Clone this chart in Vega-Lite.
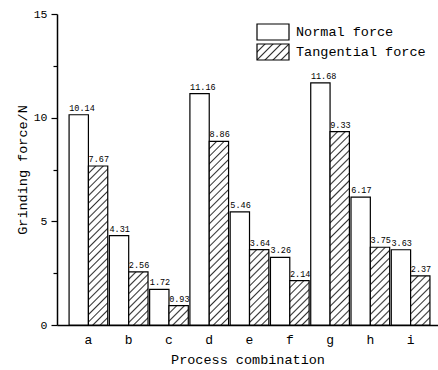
{
  "$schema": "https://vega.github.io/schema/vega-lite/v6.json",
  "width": 381,
  "height": 311,
  "autosize": {"type": "none"},
  "padding": {"left": 57, "top": 14, "right": 0, "bottom": 45},
  "background": "white",
  "config": {
    "font": "Liberation Mono",
    "view": {"stroke": null},
    "axis": {"labelColor": "black", "titleColor": "black", "domainColor": "black", "tickColor": "black", "titleFontWeight": "normal", "grid": false}
  },
  "data": {
    "values": [
      {"cat": "a", "series": "Normal force", "value": 10.14},
      {"cat": "a", "series": "Tangential force", "value": 7.67},
      {"cat": "b", "series": "Normal force", "value": 4.31},
      {"cat": "b", "series": "Tangential force", "value": 2.56},
      {"cat": "c", "series": "Normal force", "value": 1.72},
      {"cat": "c", "series": "Tangential force", "value": 0.93},
      {"cat": "d", "series": "Normal force", "value": 11.16},
      {"cat": "d", "series": "Tangential force", "value": 8.86},
      {"cat": "e", "series": "Normal force", "value": 5.46},
      {"cat": "e", "series": "Tangential force", "value": 3.64},
      {"cat": "f", "series": "Normal force", "value": 3.26},
      {"cat": "f", "series": "Tangential force", "value": 2.14},
      {"cat": "g", "series": "Normal force", "value": 11.68},
      {"cat": "g", "series": "Tangential force", "value": 9.33},
      {"cat": "h", "series": "Normal force", "value": 6.17},
      {"cat": "h", "series": "Tangential force", "value": 3.75},
      {"cat": "i", "series": "Normal force", "value": 3.63},
      {"cat": "i", "series": "Tangential force", "value": 2.37}
    ]
  },
  "layer": [
    {
      "mark": {"type": "bar", "strokeWidth": 1.2},
      "encoding": {
        "x": {
          "field": "cat", "type": "nominal",
          "scale": {"paddingInner": 0.04, "paddingOuter": 0.25, "align": 0.6},
          "axis": {"title": "Process combination", "titleFontSize": 13.5, "labelFontSize": 13, "labelAngle": 0, "ticks": false, "labelPadding": 8, "domainWidth": 1.5, "titlePadding": 6}
        },
        "xOffset": {"field": "series", "type": "nominal", "scale": {"paddingInner": 0, "paddingOuter": 0}},
        "y": {
          "field": "value", "type": "quantitative",
          "scale": {"domain": [0, 15], "nice": false},
          "axis": {"values": [0, 5, 10, 15], "tickSize": 6, "tickWidth": 1.2, "domainWidth": 1.5, "labelFontSize": 11.5, "labelPadding": 4, "title": "Grinding force/N", "titleFontSize": 13.5, "titlePadding": 4}
        },
        "fill": {
          "condition": {"test": "datum.series === 'Normal force'", "value": {"expr": "(datum.value === 'Tangential force' || datum.label === 'Tangential force') ? {gradient:'linear',x1:0,y1:0,x2:1.2,y2:0.6,stops:[{offset:0.136,color:'#fff'},{offset:0.167,color:'#333'},{offset:0.198,color:'#fff'},{offset:0.302,color:'#fff'},{offset:0.333,color:'#333'},{offset:0.364,color:'#fff'},{offset:0.469,color:'#fff'},{offset:0.5,color:'#333'},{offset:0.531,color:'#fff'},{offset:0.636,color:'#fff'},{offset:0.667,color:'#333'},{offset:0.698,color:'#fff'},{offset:0.802,color:'#fff'},{offset:0.833,color:'#333'},{offset:0.864,color:'#fff'}]} : 'white'"}},
          "field": "value", "type": "nominal", "legend": null,
          "scale": {
            "domain": [7.67, 2.56, 0.93, 8.86, 3.64, 2.14, 9.33, 3.75, 2.37],
            "range": [
              {"expr": "{gradient:'linear',x1:0,y1:0,x2:0.1343,y2:1.1052,stops:[{offset:0.033,color:'#fff'},{offset:0.042,color:'#333'},{offset:0.05,color:'#fff'},{offset:0.075,color:'#fff'},{offset:0.083,color:'#333'},{offset:0.092,color:'#fff'},{offset:0.117,color:'#fff'},{offset:0.125,color:'#333'},{offset:0.133,color:'#fff'},{offset:0.158,color:'#fff'},{offset:0.167,color:'#333'},{offset:0.175,color:'#fff'},{offset:0.2,color:'#fff'},{offset:0.208,color:'#333'},{offset:0.217,color:'#fff'},{offset:0.242,color:'#fff'},{offset:0.25,color:'#333'},{offset:0.258,color:'#fff'},{offset:0.283,color:'#fff'},{offset:0.292,color:'#333'},{offset:0.3,color:'#fff'},{offset:0.325,color:'#fff'},{offset:0.333,color:'#333'},{offset:0.342,color:'#fff'},{offset:0.367,color:'#fff'},{offset:0.375,color:'#333'},{offset:0.383,color:'#fff'},{offset:0.408,color:'#fff'},{offset:0.417,color:'#333'},{offset:0.425,color:'#fff'},{offset:0.45,color:'#fff'},{offset:0.458,color:'#333'},{offset:0.467,color:'#fff'},{offset:0.492,color:'#fff'},{offset:0.5,color:'#333'},{offset:0.508,color:'#fff'},{offset:0.533,color:'#fff'},{offset:0.542,color:'#333'},{offset:0.55,color:'#fff'},{offset:0.575,color:'#fff'},{offset:0.583,color:'#333'},{offset:0.592,color:'#fff'},{offset:0.617,color:'#fff'},{offset:0.625,color:'#333'},{offset:0.633,color:'#fff'},{offset:0.658,color:'#fff'},{offset:0.667,color:'#333'},{offset:0.675,color:'#fff'},{offset:0.7,color:'#fff'},{offset:0.708,color:'#333'},{offset:0.717,color:'#fff'},{offset:0.742,color:'#fff'},{offset:0.75,color:'#333'},{offset:0.758,color:'#fff'},{offset:0.783,color:'#fff'},{offset:0.792,color:'#333'},{offset:0.8,color:'#fff'},{offset:0.825,color:'#fff'},{offset:0.833,color:'#333'},{offset:0.842,color:'#fff'},{offset:0.867,color:'#fff'},{offset:0.875,color:'#333'},{offset:0.883,color:'#fff'},{offset:0.908,color:'#fff'},{offset:0.917,color:'#333'},{offset:0.925,color:'#fff'},{offset:0.95,color:'#fff'},{offset:0.958,color:'#333'},{offset:0.967,color:'#fff'}]}"},
              {"expr": "{gradient:'linear',x1:0,y1:0,x2:0.4386,y2:1.2044,stops:[{offset:0.079,color:'#fff'},{offset:0.1,color:'#333'},{offset:0.121,color:'#fff'},{offset:0.179,color:'#fff'},{offset:0.2,color:'#333'},{offset:0.221,color:'#fff'},{offset:0.279,color:'#fff'},{offset:0.3,color:'#333'},{offset:0.321,color:'#fff'},{offset:0.379,color:'#fff'},{offset:0.4,color:'#333'},{offset:0.421,color:'#fff'},{offset:0.479,color:'#fff'},{offset:0.5,color:'#333'},{offset:0.521,color:'#fff'},{offset:0.579,color:'#fff'},{offset:0.6,color:'#333'},{offset:0.621,color:'#fff'},{offset:0.679,color:'#fff'},{offset:0.7,color:'#333'},{offset:0.721,color:'#fff'},{offset:0.779,color:'#fff'},{offset:0.8,color:'#333'},{offset:0.821,color:'#fff'},{offset:0.879,color:'#fff'},{offset:0.9,color:'#333'},{offset:0.921,color:'#fff'}]}"},
              {"expr": "{gradient:'linear',x1:0,y1:0,x2:1.0013,y2:0.9987,stops:[{offset:0.161,color:'#fff'},{offset:0.2,color:'#333'},{offset:0.239,color:'#fff'},{offset:0.361,color:'#fff'},{offset:0.4,color:'#333'},{offset:0.439,color:'#fff'},{offset:0.561,color:'#fff'},{offset:0.6,color:'#333'},{offset:0.639,color:'#fff'},{offset:0.761,color:'#fff'},{offset:0.8,color:'#333'},{offset:0.839,color:'#fff'}]}"},
              {"expr": "{gradient:'linear',x1:0,y1:0,x2:0.115,y2:1.0931,stops:[{offset:0.03,color:'#fff'},{offset:0.037,color:'#333'},{offset:0.044,color:'#fff'},{offset:0.067,color:'#fff'},{offset:0.074,color:'#333'},{offset:0.081,color:'#fff'},{offset:0.104,color:'#fff'},{offset:0.111,color:'#333'},{offset:0.118,color:'#fff'},{offset:0.141,color:'#fff'},{offset:0.148,color:'#333'},{offset:0.155,color:'#fff'},{offset:0.178,color:'#fff'},{offset:0.185,color:'#333'},{offset:0.192,color:'#fff'},{offset:0.215,color:'#fff'},{offset:0.222,color:'#333'},{offset:0.229,color:'#fff'},{offset:0.252,color:'#fff'},{offset:0.259,color:'#333'},{offset:0.266,color:'#fff'},{offset:0.289,color:'#fff'},{offset:0.296,color:'#333'},{offset:0.303,color:'#fff'},{offset:0.326,color:'#fff'},{offset:0.333,color:'#333'},{offset:0.34,color:'#fff'},{offset:0.363,color:'#fff'},{offset:0.37,color:'#333'},{offset:0.377,color:'#fff'},{offset:0.4,color:'#fff'},{offset:0.407,color:'#333'},{offset:0.414,color:'#fff'},{offset:0.437,color:'#fff'},{offset:0.444,color:'#333'},{offset:0.451,color:'#fff'},{offset:0.474,color:'#fff'},{offset:0.481,color:'#333'},{offset:0.488,color:'#fff'},{offset:0.511,color:'#fff'},{offset:0.518,color:'#333'},{offset:0.525,color:'#fff'},{offset:0.548,color:'#fff'},{offset:0.556,color:'#333'},{offset:0.563,color:'#fff'},{offset:0.585,color:'#fff'},{offset:0.593,color:'#333'},{offset:0.6,color:'#fff'},{offset:0.622,color:'#fff'},{offset:0.63,color:'#333'},{offset:0.637,color:'#fff'},{offset:0.659,color:'#fff'},{offset:0.667,color:'#333'},{offset:0.674,color:'#fff'},{offset:0.696,color:'#fff'},{offset:0.704,color:'#333'},{offset:0.711,color:'#fff'},{offset:0.733,color:'#fff'},{offset:0.741,color:'#333'},{offset:0.748,color:'#fff'},{offset:0.77,color:'#fff'},{offset:0.778,color:'#333'},{offset:0.785,color:'#fff'},{offset:0.807,color:'#fff'},{offset:0.815,color:'#333'},{offset:0.822,color:'#fff'},{offset:0.844,color:'#fff'},{offset:0.852,color:'#333'},{offset:0.859,color:'#fff'},{offset:0.881,color:'#fff'},{offset:0.889,color:'#333'},{offset:0.896,color:'#fff'},{offset:0.918,color:'#fff'},{offset:0.926,color:'#333'},{offset:0.933,color:'#fff'},{offset:0.956,color:'#fff'},{offset:0.963,color:'#333'},{offset:0.97,color:'#fff'}]}"},
              {"expr": "{gradient:'linear',x1:0,y1:0,x2:0.3019,y2:1.1788,stops:[{offset:0.061,color:'#fff'},{offset:0.077,color:'#333'},{offset:0.093,color:'#fff'},{offset:0.138,color:'#fff'},{offset:0.154,color:'#333'},{offset:0.17,color:'#fff'},{offset:0.215,color:'#fff'},{offset:0.231,color:'#333'},{offset:0.247,color:'#fff'},{offset:0.292,color:'#fff'},{offset:0.308,color:'#333'},{offset:0.324,color:'#fff'},{offset:0.369,color:'#fff'},{offset:0.385,color:'#333'},{offset:0.4,color:'#fff'},{offset:0.446,color:'#fff'},{offset:0.462,color:'#333'},{offset:0.477,color:'#fff'},{offset:0.523,color:'#fff'},{offset:0.538,color:'#333'},{offset:0.554,color:'#fff'},{offset:0.6,color:'#fff'},{offset:0.615,color:'#333'},{offset:0.631,color:'#fff'},{offset:0.677,color:'#fff'},{offset:0.692,color:'#333'},{offset:0.708,color:'#fff'},{offset:0.753,color:'#fff'},{offset:0.769,color:'#333'},{offset:0.785,color:'#fff'},{offset:0.83,color:'#fff'},{offset:0.846,color:'#333'},{offset:0.862,color:'#fff'},{offset:0.907,color:'#fff'},{offset:0.923,color:'#333'},{offset:0.939,color:'#fff'}]}"},
              {"expr": "{gradient:'linear',x1:0,y1:0,x2:0.5257,y2:1.2066,stops:[{offset:0.088,color:'#fff'},{offset:0.111,color:'#333'},{offset:0.135,color:'#fff'},{offset:0.199,color:'#fff'},{offset:0.222,color:'#333'},{offset:0.246,color:'#fff'},{offset:0.31,color:'#fff'},{offset:0.333,color:'#333'},{offset:0.357,color:'#fff'},{offset:0.421,color:'#fff'},{offset:0.444,color:'#333'},{offset:0.468,color:'#fff'},{offset:0.532,color:'#fff'},{offset:0.556,color:'#333'},{offset:0.579,color:'#fff'},{offset:0.643,color:'#fff'},{offset:0.667,color:'#333'},{offset:0.69,color:'#fff'},{offset:0.754,color:'#fff'},{offset:0.778,color:'#333'},{offset:0.801,color:'#fff'},{offset:0.865,color:'#fff'},{offset:0.889,color:'#333'},{offset:0.912,color:'#fff'}]}"},
              {"expr": "{gradient:'linear',x1:0,y1:0,x2:0.1088,y2:1.0891,stops:[{offset:0.029,color:'#fff'},{offset:0.036,color:'#333'},{offset:0.043,color:'#fff'},{offset:0.064,color:'#fff'},{offset:0.071,color:'#333'},{offset:0.079,color:'#fff'},{offset:0.1,color:'#fff'},{offset:0.107,color:'#333'},{offset:0.114,color:'#fff'},{offset:0.136,color:'#fff'},{offset:0.143,color:'#333'},{offset:0.15,color:'#fff'},{offset:0.172,color:'#fff'},{offset:0.179,color:'#333'},{offset:0.186,color:'#fff'},{offset:0.207,color:'#fff'},{offset:0.214,color:'#333'},{offset:0.221,color:'#fff'},{offset:0.243,color:'#fff'},{offset:0.25,color:'#333'},{offset:0.257,color:'#fff'},{offset:0.279,color:'#fff'},{offset:0.286,color:'#333'},{offset:0.293,color:'#fff'},{offset:0.314,color:'#fff'},{offset:0.321,color:'#333'},{offset:0.329,color:'#fff'},{offset:0.35,color:'#fff'},{offset:0.357,color:'#333'},{offset:0.364,color:'#fff'},{offset:0.386,color:'#fff'},{offset:0.393,color:'#333'},{offset:0.4,color:'#fff'},{offset:0.422,color:'#fff'},{offset:0.429,color:'#333'},{offset:0.436,color:'#fff'},{offset:0.457,color:'#fff'},{offset:0.464,color:'#333'},{offset:0.471,color:'#fff'},{offset:0.493,color:'#fff'},{offset:0.5,color:'#333'},{offset:0.507,color:'#fff'},{offset:0.529,color:'#fff'},{offset:0.536,color:'#333'},{offset:0.543,color:'#fff'},{offset:0.564,color:'#fff'},{offset:0.571,color:'#333'},{offset:0.579,color:'#fff'},{offset:0.6,color:'#fff'},{offset:0.607,color:'#333'},{offset:0.614,color:'#fff'},{offset:0.636,color:'#fff'},{offset:0.643,color:'#333'},{offset:0.65,color:'#fff'},{offset:0.672,color:'#fff'},{offset:0.679,color:'#333'},{offset:0.686,color:'#fff'},{offset:0.707,color:'#fff'},{offset:0.714,color:'#333'},{offset:0.721,color:'#fff'},{offset:0.743,color:'#fff'},{offset:0.75,color:'#333'},{offset:0.757,color:'#fff'},{offset:0.779,color:'#fff'},{offset:0.786,color:'#333'},{offset:0.793,color:'#fff'},{offset:0.814,color:'#fff'},{offset:0.821,color:'#333'},{offset:0.829,color:'#fff'},{offset:0.85,color:'#fff'},{offset:0.857,color:'#333'},{offset:0.864,color:'#fff'},{offset:0.886,color:'#fff'},{offset:0.893,color:'#333'},{offset:0.9,color:'#fff'},{offset:0.922,color:'#fff'},{offset:0.929,color:'#333'},{offset:0.936,color:'#fff'},{offset:0.957,color:'#fff'},{offset:0.964,color:'#333'},{offset:0.971,color:'#fff'}]}"},
              {"expr": "{gradient:'linear',x1:0,y1:0,x2:0.2924,y2:1.1759,stops:[{offset:0.061,color:'#fff'},{offset:0.077,color:'#333'},{offset:0.093,color:'#fff'},{offset:0.138,color:'#fff'},{offset:0.154,color:'#333'},{offset:0.17,color:'#fff'},{offset:0.215,color:'#fff'},{offset:0.231,color:'#333'},{offset:0.247,color:'#fff'},{offset:0.292,color:'#fff'},{offset:0.308,color:'#333'},{offset:0.324,color:'#fff'},{offset:0.369,color:'#fff'},{offset:0.385,color:'#333'},{offset:0.4,color:'#fff'},{offset:0.446,color:'#fff'},{offset:0.462,color:'#333'},{offset:0.477,color:'#fff'},{offset:0.523,color:'#fff'},{offset:0.538,color:'#333'},{offset:0.554,color:'#fff'},{offset:0.6,color:'#fff'},{offset:0.615,color:'#333'},{offset:0.631,color:'#fff'},{offset:0.677,color:'#fff'},{offset:0.692,color:'#333'},{offset:0.708,color:'#fff'},{offset:0.753,color:'#fff'},{offset:0.769,color:'#333'},{offset:0.785,color:'#fff'},{offset:0.83,color:'#fff'},{offset:0.846,color:'#333'},{offset:0.862,color:'#fff'},{offset:0.907,color:'#fff'},{offset:0.923,color:'#333'},{offset:0.939,color:'#fff'}]}"},
              {"expr": "{gradient:'linear',x1:0,y1:0,x2:0.4747,y2:1.2066,stops:[{offset:0.089,color:'#fff'},{offset:0.111,color:'#333'},{offset:0.133,color:'#fff'},{offset:0.2,color:'#fff'},{offset:0.222,color:'#333'},{offset:0.244,color:'#fff'},{offset:0.311,color:'#fff'},{offset:0.333,color:'#333'},{offset:0.355,color:'#fff'},{offset:0.423,color:'#fff'},{offset:0.444,color:'#333'},{offset:0.466,color:'#fff'},{offset:0.534,color:'#fff'},{offset:0.556,color:'#333'},{offset:0.578,color:'#fff'},{offset:0.645,color:'#fff'},{offset:0.667,color:'#333'},{offset:0.689,color:'#fff'},{offset:0.756,color:'#fff'},{offset:0.778,color:'#333'},{offset:0.8,color:'#fff'},{offset:0.867,color:'#fff'},{offset:0.889,color:'#333'},{offset:0.911,color:'#fff'}]}"}
            ]
          }
        },
        "stroke": {
          "field": "series", "type": "nominal",
          "scale": {"range": ["black", "black"]},
          "legend": {
            "title": null, "orient": "none", "legendX": 199, "legendY": 9, "padding": 0,
            "symbolType": "M-1,-1H3V1H-1Z", "symbolSize": 256, "symbolStrokeWidth": 1.2,
            "labelFontSize": 13.5, "labelFont": "Liberation Mono", "labelColor": "black", "labelOffset": 22, "rowPadding": -5
          }
        }
      }
    },
    {
      "mark": {"type": "text", "align": "left", "baseline": "alphabetic", "dx": -9.5, "dy": -4, "fontSize": 8.5, "color": "black"},
      "encoding": {
        "x": {"field": "cat", "type": "nominal"},
        "xOffset": {"field": "series", "type": "nominal"},
        "y": {
          "field": "value", "type": "quantitative",
          "axis": {"orient": "left", "values": [2.5, 7.5, 12.5], "tickSize": 4, "tickWidth": 1.2, "labels": false, "domain": false, "title": null}
        },
        "text": {"field": "value", "type": "quantitative", "format": ".2f"}
      }
    }
  ],
  "resolve": {"axis": {"y": "independent"}}
}
